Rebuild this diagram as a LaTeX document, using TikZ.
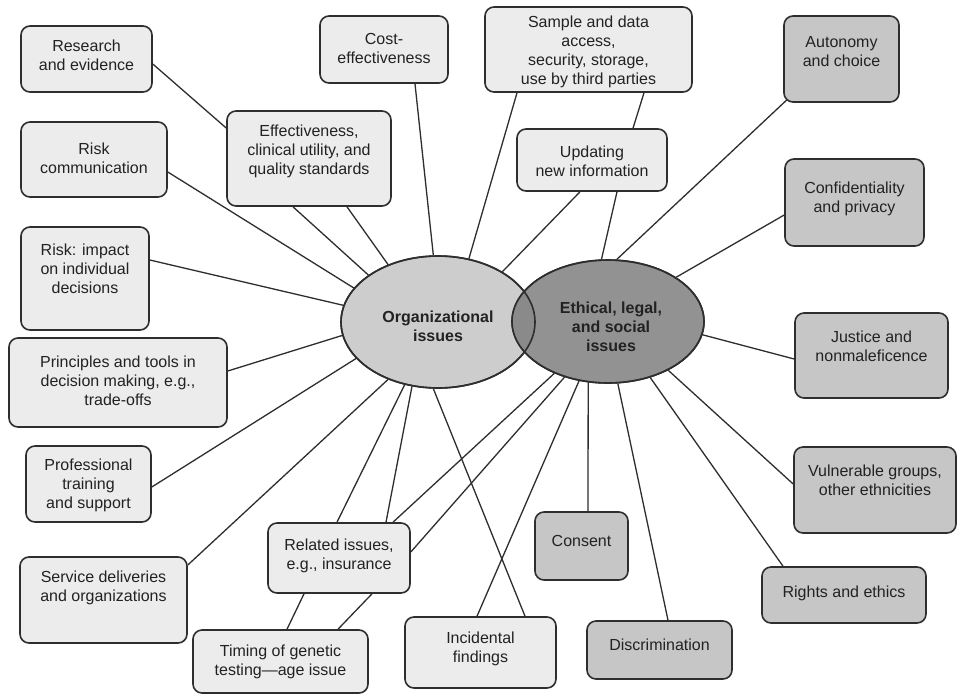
\documentclass[tikz,border=0pt]{standalone}
\usepackage{fontspec}
\setmainfont{Liberation Sans}
\usetikzlibrary{shapes.geometric}
\pgfdeclarelayer{background}
\pgfsetlayers{background,main}
\definecolor{lightbox}{HTML}{ECECEC}
\definecolor{darkbox}{HTML}{C6C6C6}
\definecolor{orgfill}{HTML}{CDCDCD}
\definecolor{ethfill}{HTML}{929292}
\definecolor{ovfill}{HTML}{8A8A8A}
\definecolor{edge}{HTML}{2E2E2E}
\definecolor{ink}{HTML}{222222}
\tikzset{
  boxbase/.style={draw=edge, line width=1.6pt, rounded corners=9pt, inner sep=0pt},
  lbox/.style={boxbase, fill=lightbox},
  dbox/.style={boxbase, fill=darkbox},
  txt/.style={text=ink, align=center, inner sep=0pt, font=\fontsize{16}{19}\selectfont},
  btxt/.style={txt, font=\fontsize{16}{19}\selectfont\bfseries},
  conn/.style={draw=edge, line width=1.3pt},
  ell/.style={ellipse, inner sep=0pt, draw=edge, line width=1.6pt}
}
% #1 name, #2 style, #3 cx, #4 cy, #5 width, #6 height, #7 text y, #8 text
\newcommand\bx[8]{%
  \node[#2, minimum width=#5, minimum height=#6] (#1) at (#3,#4) {};
  \node[txt] (#1t) at (#3,#7) {#8};}
\begin{document}
\begin{tikzpicture}[x=1pt,y=-1pt]
\useasboundingbox (0,0) rectangle (958,694);
% central ellipses
\node[ell, fill=orgfill, minimum width=194, minimum height=132] (org) at (438,322) {};
\node[ell, fill=ethfill, minimum width=192, minimum height=123] (eth) at (608,321.5) {};
\begin{scope}
  \clip (438,322) ellipse [x radius=97, y radius=66];
  \fill[ovfill] (608,321.5) ellipse [x radius=96, y radius=61.5];
\end{scope}
\draw[edge, line width=1.6pt] (438,322) ellipse [x radius=97, y radius=66];
\draw[edge, line width=1.6pt] (608,321.5) ellipse [x radius=96, y radius=61.5];
\node[btxt] (orgt) at (438,326) {Organizational\\issues};
\node[btxt] (etht) at (611,327) {Ethical, legal,\\and social\\issues};
% boxes
\bx{re}{lbox}{86.5}{59}{131}{66}{55}{Research\\and evidence}
\bx{cost}{lbox}{384}{49.5}{128}{67}{48.5}{Cost-\\effectiveness}
\bx{eff}{lbox}{309}{158.5}{164}{95}{151}{Effectiveness,\\clinical utility, and\\quality standards}
\bx{rc}{lbox}{94}{159.5}{146}{75}{158.5}{Risk\\communication}
\bx{ri}{lbox}{85}{278.5}{128}{103}{269}{Risk: impact\\on individual\\decisions}
\bx{princ}{lbox}{118}{382.5}{218}{89}{381}{Principles and tools in\\decision making, e.g.,\\trade-offs}
\bx{prof}{lbox}{88.5}{484}{125}{76}{485}{Professional\\training\\and support}
\bx{serv}{lbox}{103.5}{600}{167}{86}{587.5}{Service deliveries\\and organizations}
\bx{rel}{lbox}{339}{558}{142}{70}{556}{Related issues,\\e.g., insurance}
\bx{tim}{lbox}{280.5}{661.5}{175}{63}{662}{Timing of genetic\\testing—age issue}
\bx{inc}{lbox}{480.5}{652.5}{151}{71}{649}{Incidental\\findings}
\bx{smp}{lbox}{588.5}{49.5}{207}{85}{51.5}{Sample and data\\access,\\security, storage,\\use by third parties}
\bx{upd}{lbox}{592}{160}{150}{62}{161}{Updating\\new information}
\bx{auto}{dbox}{841.5}{59}{115}{86}{51.5}{Autonomy\\and choice}
\bx{conf}{dbox}{854.5}{202.5}{139}{87}{198.5}{Confidentiality\\and privacy}
\bx{just}{dbox}{871.5}{355.5}{153}{85}{346}{Justice and\\nonmaleficence}
\bx{vul}{dbox}{875}{490}{162}{86}{480.5}{Vulnerable groups,\\other ethnicities}
\bx{cons}{dbox}{581.5}{546}{93}{68}{541}{Consent}
\bx{disc}{dbox}{659.5}{650}{145}{58}{645}{Discrimination}
\bx{rights}{dbox}{844}{595}{164}{56}{593}{Rights and ethics}
% connectors, behind everything
\begin{pgfonlayer}{background}
\fill[white] (0,0) rectangle (958,694);
\draw[conn] (re.east |- 0,64) -- (eff.west |- 0,128);
\draw[conn] (rc.east |- 0,172) -- (org.158);
\draw[conn] (eff.south -| 293,0) -- (org.146);
\draw[conn] (eff.south -| 347,0) -- (org.131);
\draw[conn] (cost.south -| 415,0) -- (org.94);
\draw[conn] (smp.south -| 517,0) -- (org.64);
\draw[conn] (smp.south -| 644,0) -- (upd.north -| 633,0);
\draw[conn] (upd.south -| 580,0) -- (org.38);
\draw[conn] (upd.south -| 617,0) -- (eth.96);
\draw[conn] ([shift={(8,-7)}]auto.south west) -- (eth.82);
\draw[conn] (conf.west |- 0,215) -- (eth.33);
\draw[conn] (just.west |- 0,359) -- (eth.-8);
\draw[conn] (vul.west |- 0,484) -- (eth.-39);
\draw[conn] (rights.north -| 783,0) -- (eth.-53);
\draw[conn] (disc.north -| 668,0) -- (eth.-81);
\draw[conn] (cons.north -| 588,0) -- (eth.-108);
\draw[conn] (inc.north -| 477,0) -- (eth.-116);
\draw[conn] (inc.north -| 525,0) -- (org.-94);
\draw[conn] (rel.north -| 393,0) -- (eth.-136);
\draw[conn] (rel.east |- 0,552) -- (eth.-128);
\draw[conn] (rel.north -| 337,0) -- (org.-118);
\draw[conn] (rel.north -| 386,0) -- (org.-112);
\draw[conn] (tim.north -| 287,0) -- (rel.south -| 304,0);
\draw[conn] (tim.north -| 338,0) -- (rel.south -| 372,0);
\draw[conn] (serv.east |- 0,565) -- (org.-131);
\draw[conn] (prof.east |- 0,487) -- (org.-156);
\draw[conn] (princ.east |- 0,371) -- (org.-172);
\draw[conn] (ri.east |- 0,260) -- (org.170);
\end{pgfonlayer}
\end{tikzpicture}
\end{document}
